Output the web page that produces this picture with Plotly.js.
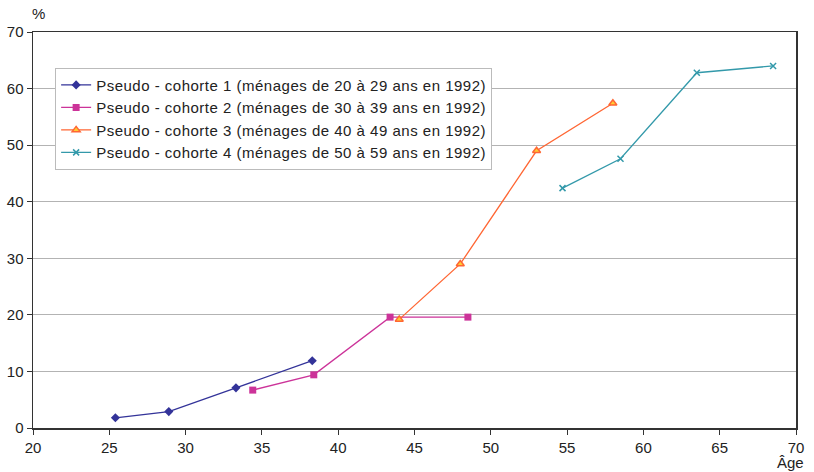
<!DOCTYPE html>
<html><head><meta charset="utf-8">
<script src="https://cdn.plot.ly/plotly-3.0.1.min.js"></script>
<style>html,body{margin:0;padding:0;background:#fff}
.legendtext{letter-spacing:0.5px}</style>
</head><body>
<div id="chart" style="width:814px;height:472px"></div>
<script>
const names = [
  "Pseudo - cohorte 1 (ménages de 20 à 29 ans en 1992)",
  "Pseudo - cohorte 2 (ménages de 30 à 39 ans en 1992)",
  "Pseudo - cohorte 3 (ménages de 40 à 49 ans en 1992)",
  "Pseudo - cohorte 4 (ménages de 50 à 59 ans en 1992)"
];
const age1 = [25.4, 28.9, 33.3, 38.3];
const val1 = [1.8, 2.9, 7.1, 11.9];
const age2 = [34.4, 38.4, 43.4, 48.5];
const val2 = [6.7, 9.4, 19.6, 19.6];
const age3 = [44.0, 48.0, 53.0, 58.0];
const val3 = [19.2, 29.0, 49.0, 57.4];
const age4 = [54.7, 58.5, 63.5, 68.5];
const val4 = [42.4, 47.6, 62.8, 64.0];
const xTicks = [20, 25, 30, 35, 40, 45, 50, 55, 60, 65, 70];
const yTicks = [0, 10, 20, 30, 40, 50, 60, 70];

const traces = [
  {x: age1, y: val1, name: names[0], mode: 'lines+markers',
   line: {color: '#333399', width: 1.3},
   marker: {symbol: 'diamond', size: 7, color: '#333399'}},
  {x: age2, y: val2, name: names[1], mode: 'lines+markers',
   line: {color: '#CC3399', width: 1.3},
   marker: {symbol: 'square', size: 7, color: '#CC3399'}},
  {x: age3, y: val3, name: names[2], mode: 'lines+markers',
   line: {color: '#FF6633', width: 1.3},
   marker: {symbol: 'triangle-up', size: 7, color: '#FFCC33', line: {color: '#FF6633', width: 1.5}}},
  {x: age4, y: val4, name: names[3], mode: 'lines+markers',
   line: {color: '#3399AA', width: 1.3},
   marker: {symbol: 'x-thin', size: 6, color: '#3399AA', line: {color: '#3399AA', width: 1.5}}}
];

const layout = {
  width: 814, height: 472,
  margin: {l: 33, r: 18, t: 32, b: 44},
  paper_bgcolor: '#fff', plot_bgcolor: '#fff',
  font: {family: 'Liberation Sans, Arial, sans-serif', size: 14, color: '#222'},
  showlegend: true,
  legend: {x: 0.029, y: 0.91, xanchor: 'left', yanchor: 'top',
    bordercolor: '#bbbbbb', borderwidth: 1, bgcolor: '#fff',
    font: {size: 15, color: '#222'}, itemwidth: 30, tracegroupgap: 0},
  xaxis: {range: [20, 70], tickvals: xTicks, ticks: 'outside', ticklen: 5,
    tickcolor: '#333', showline: true, linecolor: '#333', linewidth: 1.5, mirror: true,
    showgrid: false, zeroline: false, tickfont: {size: 15, color: '#222'}},
  yaxis: {range: [0, 70], tickvals: yTicks, ticks: 'outside', ticklen: 5,
    tickcolor: '#333', showline: true, linecolor: '#333', linewidth: 1.5, mirror: true,
    showgrid: true, gridcolor: '#b3b3b3', gridwidth: 1, zeroline: false,
    tickfont: {size: 15, color: '#222'}},
  annotations: [
    {text: '%', xref: 'paper', yref: 'paper', x: 0.007, y: 1, yshift: 8,
     xanchor: 'center', yanchor: 'bottom', showarrow: false, font: {size: 15, color: '#222'}},
    {text: 'Âge', xref: 'paper', yref: 'paper', x: 0.993, y: 0, yshift: -24,
     xanchor: 'center', yanchor: 'top', showarrow: false, font: {size: 15, color: '#222'}}
  ]
};
Plotly.newPlot('chart', traces, layout, {displayModeBar: false, staticPlot: true});
</script>
</body></html>
